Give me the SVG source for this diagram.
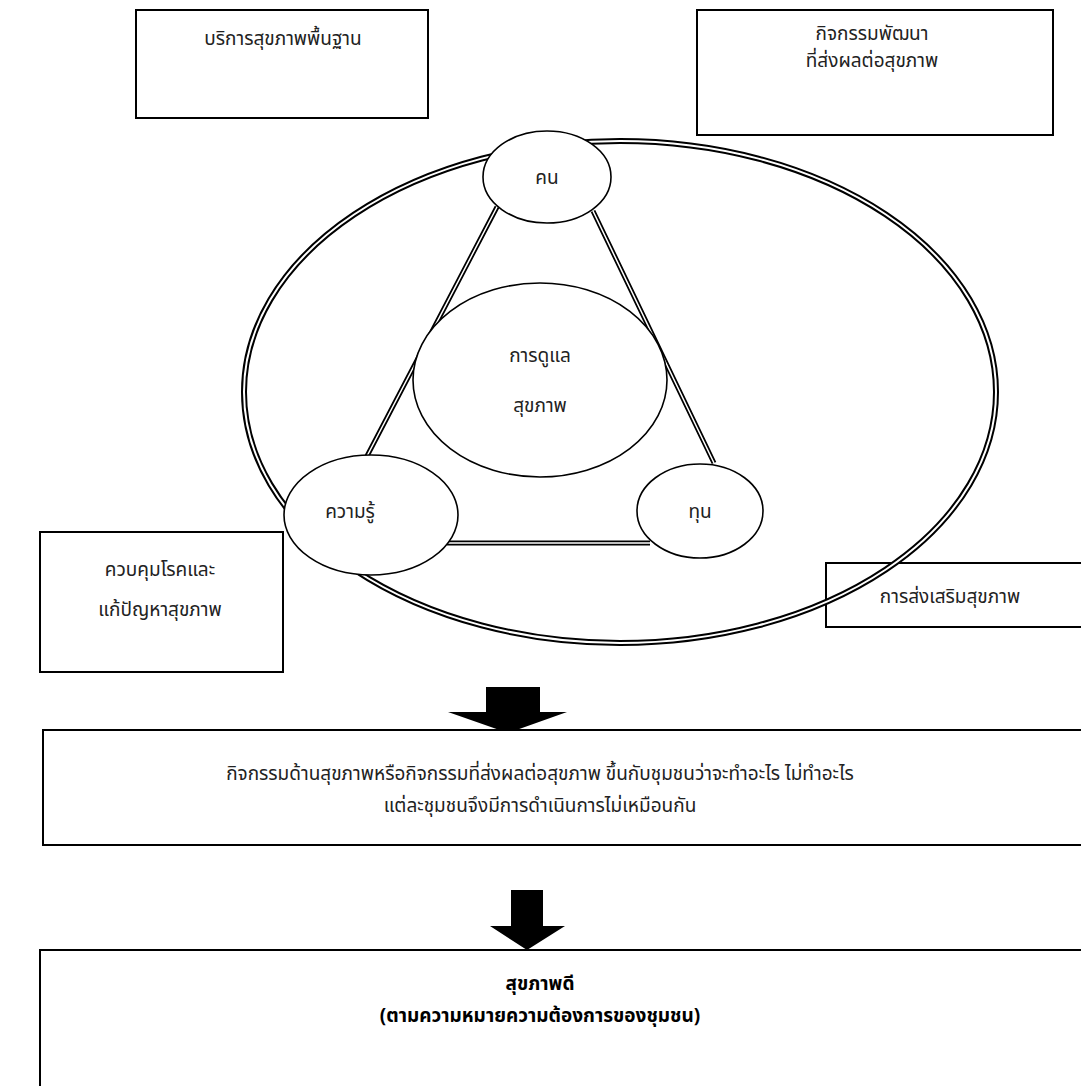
<svg xmlns="http://www.w3.org/2000/svg" width="1081" height="1086" viewBox="0 0 1081 1086">
<style>
.box{fill:#fff;stroke:#000;stroke-width:2}
.node{fill:#fff;stroke:#000;stroke-width:1.6}
.dblo{fill:none;stroke:#000;stroke-width:6}
.dbli{fill:none;stroke:#fff;stroke-width:2}
.t{font-family:"Noto Sans Thai","Noto Sans","DejaVu Sans",sans-serif;font-size:19px;fill:#222;text-anchor:middle}
.b{font-weight:bold;fill:#000}
.arr{fill:#000}
</style>
<rect width="1081" height="1086" fill="#fff"/>
<g id="box-basic"><rect class="box" x="136" y="10" width="292" height="108"/><text class="t" x="283" y="45">บริการสุขภาพพื้นฐาน</text></g>
<g id="box-dev"><rect class="box" x="697" y="10" width="356" height="125"/><text class="t" x="872" y="40">กิจกรรมพัฒนา</text><text class="t" x="872" y="67">ที่ส่งผลต่อสุขภาพ</text></g>
<g id="box-control"><rect class="box" x="40" y="532" width="243" height="140"/><text class="t" x="160" y="576">ควบคุมโรคและ</text><text class="t" x="160" y="616">แก้ปัญหาสุขภาพ</text></g>
<g id="box-promote"><rect class="box" x="826" y="563" width="270" height="64"/><text class="t" x="950" y="603">การส่งเสริมสุขภาพ</text></g>
<g id="outer-ring"><ellipse class="dblo" cx="620" cy="392" rx="376" ry="251"/><ellipse class="dbli" cx="620" cy="392" rx="376" ry="251"/></g>
<g id="connectors">
<path class="dblo" style="stroke-width:5" d="M497,207 L366,458 M593,211 L714,463 M447,543 L650,543"/>
<path class="dbli" style="stroke-width:1.5" d="M497,207 L366,458 M593,211 L714,463 M447,543 L650,543"/>
<polygon class="arr" points="486,687 540,687 540,712 567,712 508,733 448,712 486,712"/>
<polygon class="arr" points="511,890 543,890 543,926 565,926 527,950 490,926 511,926"/>
</g>
<g id="node-people"><ellipse class="node" cx="547" cy="177" rx="64" ry="46"/><text class="t" x="547" y="184">คน</text></g>
<g id="node-care"><ellipse class="node" cx="540" cy="380" rx="127" ry="97"/><text class="t" x="540" y="362">การดูแล</text><text class="t" x="540" y="412">สุขภาพ</text></g>
<g id="node-knowledge"><ellipse class="node" cx="371" cy="515" rx="87" ry="60"/><text class="t" x="350" y="518">ความรู้</text></g>
<g id="node-capital"><ellipse class="node" cx="700" cy="511" rx="63" ry="47"/><text class="t" x="700" y="518">ทุน</text></g>
<g id="box-activity"><rect class="box" x="43" y="730" width="1050" height="115"/><text class="t" x="540" y="780">กิจกรรมด้านสุขภาพหรือกิจกรรมที่ส่งผลต่อสุขภาพ ขึ้นกับชุมชนว่าจะทำอะไร ไม่ทำอะไร</text><text class="t" x="540" y="812">แต่ละชุมชนจึงมีการดำเนินการไม่เหมือนกัน</text></g>
<g id="box-result"><rect class="box" x="40" y="950" width="1060" height="150"/><text class="t b" x="540" y="990">สุขภาพดี</text><text class="t b" x="540" y="1022">(ตามความหมายความต้องการของชุมชน)</text></g>
</svg>
